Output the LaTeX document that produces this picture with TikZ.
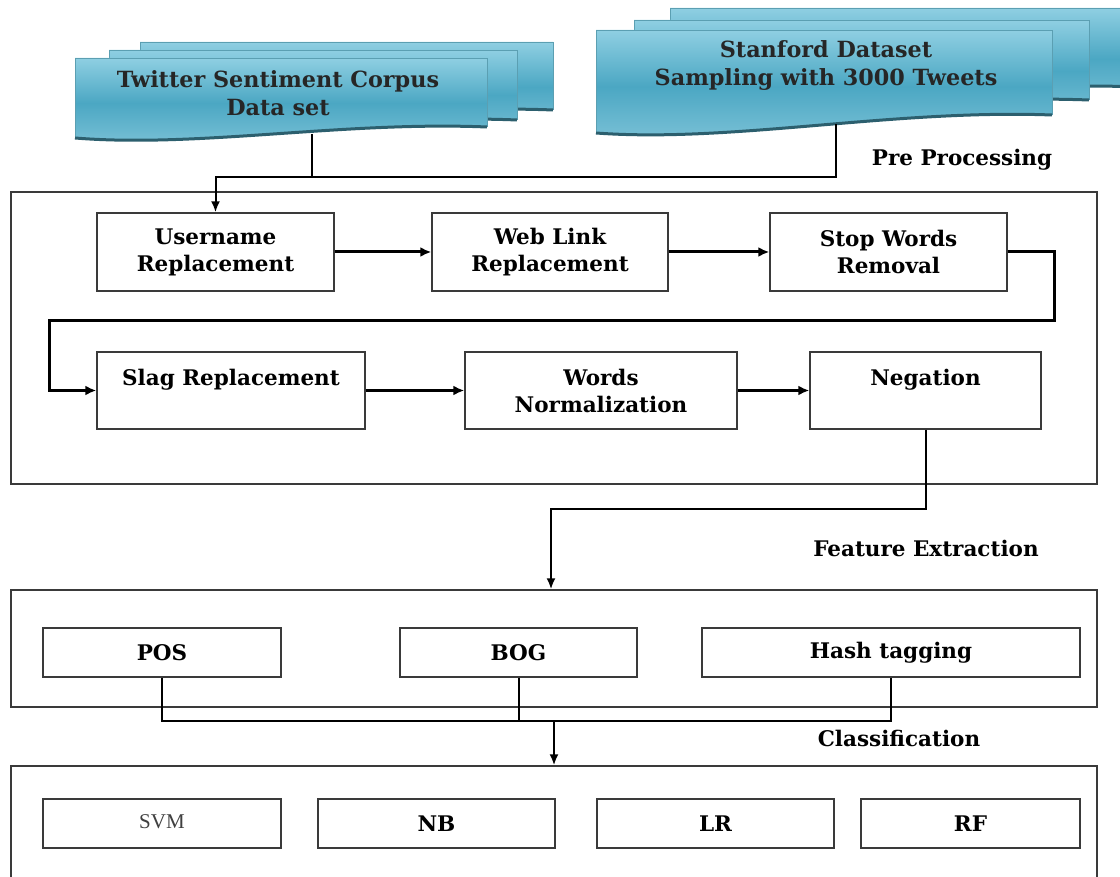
\documentclass[tikz,border=0pt]{standalone}
\usepackage{fontspec}
\setmainfont{DejaVu Serif}
\newfontfamily\svmfont{Liberation Serif}
\usetikzlibrary{arrows.meta,calc}
\definecolor{docT}{HTML}{8FCFE2}
\definecolor{docM}{HTML}{4BA7C3}
\definecolor{docB}{HTML}{7CC2D7}
\definecolor{docS}{HTML}{2C5F6E}
\definecolor{docE}{HTML}{5B9FB2}
\definecolor{boxc}{HTML}{3A3A3A}
\definecolor{svmc}{HTML}{404040}
\newcommand\docsheet[5]{%
  \shade[top color=docT, bottom color=docB, middle color=docM]
    (#1,#2) -- (#3,#2) -- (#3,#5)
    .. controls ({#3-0.35*(#3-#1)},{#5-6}) and ({#1+0.3*(#3-#1)},{#4+10}) .. (#1,#4) -- cycle;
  \draw[docE, line width=0.7pt] (#1,#4) -- (#1,#2) -- (#3,#2) -- (#3,#5);
  \draw[docS, line width=3pt]
    (#3,#5) .. controls ({#3-0.35*(#3-#1)},{#5-6}) and ({#1+0.3*(#3-#1)},{#4+10}) .. (#1,#4);
}
\tikzset{
  lbl/.style={font=\fontsize{21.5}{27}\selectfont\bfseries, align=center},
  doclbl/.style={font=\fontsize{22.3}{28}\selectfont\bfseries, align=center, text=black!85},
  box/.style={lbl, draw=boxc, line width=1.4pt, fill=white, inner sep=0pt},
  frame/.style={draw=boxc, line width=1.4pt, inner sep=0pt},
  conn/.style={draw=black, line width=2pt},
  arr/.style={draw=black, line width=3pt, -{Latex[length=11pt,width=10pt]}},
  carr/.style={conn, -{Latex[length=11pt,width=9pt]}},
}
\begin{document}
\begin{tikzpicture}[x=1pt,y=-1pt]
\useasboundingbox (0,0) rectangle (1120,877);
\fill[white] (0,0) rectangle (1120,877);
\begin{scope}
\clip (0,0) rectangle (1120,877);
% document stacks
\docsheet{140}{42}{553}{122}{110}
\docsheet{109}{50}{517}{130}{120}
\docsheet{75}{58}{487}{138}{127}
\docsheet{670}{8}{1145}{100}{87}
\docsheet{634}{20}{1089}{112}{100}
\docsheet{596}{30}{1052}{133}{115}
\node[doclbl] (twt) at (278,93) {Twitter Sentiment Corpus\\Data set};
\node[doclbl] (stf) at (826,66) {Stanford Dataset\\Sampling with 3000 Tweets};
\coordinate (tw) at (312,134);
\coordinate (st) at (836,124);
\coordinate (bus) at (0,177);

% section labels
\node[lbl] (lpre) at (962,160) {Pre Processing};
\node[lbl] (lfeat) at (926,548) {Feature Extraction};
\node[lbl] (lcls) at (899,738) {Classification};

% containers
\node[frame, minimum width=1086pt, minimum height=292pt] (pre) at (554,338) {};
\node[frame, minimum width=1086pt, minimum height=117pt] (feat) at (554,648.5) {};
\node[frame, minimum width=1086pt, minimum height=116pt] (cls) at (554,824) {};

% preprocessing row 1
\node[box, minimum width=237pt, minimum height=78pt] (user) at (215.5,252) {Username\\Replacement};
\node[box, minimum width=236pt, minimum height=78pt] (web) at (550,252) {Web Link\\Replacement};
\node[box, minimum width=237pt, minimum height=78pt] (stop) at (888.5,252) {Stop Words\\Removal};
% row 2
\node[box, minimum width=268pt, minimum height=77pt] (slag) at (231,390.5) {Slag Replacement\\\mbox{}};
\node[box, minimum width=272pt, minimum height=77pt] (words) at (601,390.5) {Words\\Normalization};
\node[box, minimum width=231pt, minimum height=77pt] (neg) at (925.5,390.5) {Negation\\\mbox{}};

% features
\node[box, minimum width=238pt, minimum height=49pt] (pos) at (162,652.5) {POS};
\node[box, minimum width=237pt, minimum height=49pt] (bog) at (518.5,652.5) {BOG};
\node[box, minimum width=378pt, minimum height=49pt] (hash) at (891,652.5) {Hash tagging};

% classifiers
\node[box, minimum width=238pt, minimum height=49pt, font=\svmfont\fontsize{21}{24}\selectfont, text=svmc] (svm) at (162,823.5) {\raisebox{3pt}{SVM}};
\node[box, minimum width=237pt, minimum height=49pt] (nb) at (436.5,823.5) {NB};
\node[box, minimum width=237pt, minimum height=49pt] (lr) at (715.5,823.5) {LR};
\node[box, minimum width=219pt, minimum height=49pt] (rf) at (970.5,823.5) {RF};

% connectors from datasets
\draw[conn] (tw) -- (tw |- bus);
\draw[carr] (st) |- (user.north |- bus) -- (user.north);

% preprocessing flow
\draw[arr] (user.east) -- (web.west);
\draw[arr] (web.east) -- (stop.west);
\coordinate (r1) at (1054,321);
\coordinate (l1) at (49,321);
\draw[arr] (stop.east) -| (r1) -- (l1) |- (slag.west);
\draw[arr] (slag.east) -- (words.west);
\draw[arr] (words.east) -- (neg.west);

% negation to features
\coordinate (b2) at (551,509);
\draw[carr] (neg.south) |- (b2) -- (b2 |- feat.north);

% features to classification
\coordinate (b3) at (554,721);
\draw[conn] (pos.south) |- (hash.south |- b3) -- (hash.south);
\draw[conn] (bog.south) -- (bog.south |- b3);
\draw[carr] (b3) -- (b3 |- cls.north);
\end{scope}
\end{tikzpicture}
\end{document}
